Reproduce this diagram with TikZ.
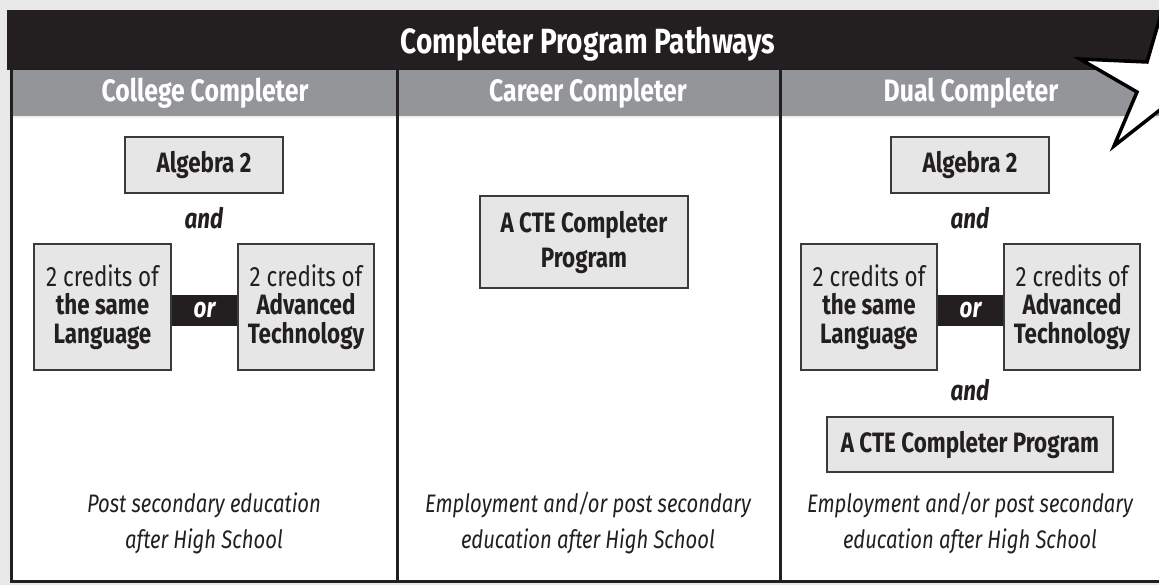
\documentclass[tikz,border=0pt]{standalone}
\usepackage{fontspec}
\setmainfont{Fira Sans}[FakeStretch=0.8]
\definecolor{ink}{HTML}{231F20}
\definecolor{band}{HTML}{939598}
\definecolor{boxfill}{HTML}{E6E6E6}
\definecolor{boxline}{HTML}{3A3A3A}
\definecolor{bg}{HTML}{E8E8E8}
\newcommand\litetxt[1]{{\mdseries #1}}
\tikzset{
  box/.style={draw=boxline, line width=1.8pt, fill=boxfill, inner sep=0pt, align=center,
    text=ink, font=\fontsize{28}{28.5}\selectfont\bfseries},
  andtext/.style={text=ink, font=\fontsize{28}{28}\selectfont\bfseries\itshape},
  outcome/.style={text=ink, align=center, font=\fontsize{25.3}{36}\selectfont\itshape},
  colhead/.style={text=white, font=\fontsize{31}{32}\selectfont\bfseries},
  orbar/.style={draw=ink, line width=31pt},
  ortext/.style={text=white, font=\fontsize{28}{28}\selectfont\bfseries\itshape},
  rule/.style={draw=ink, line width=3pt},
  starline/.style={draw=black, line width=3.5pt, line join=miter}
}
\begin{document}
\begin{tikzpicture}[x=1pt, y=-1pt]
  \useasboundingbox (0,0) rectangle (1159,585);
  % background and frame
  \fill[bg] (0,0) rectangle (1159,585);
  \fill[white] (11,70) rectangle (1159,582);
  \fill[ink] (7,10) rectangle (1159,70);
  \fill[band] (11,70) rectangle (1159,117);
  \fill[bg!70!white] (11,116) rectangle (1159,118.5);
  % title and column heads
  \node[colhead, font=\fontsize{35}{36}\selectfont\bfseries] (title) at (588,44) {Completer Program Pathways};
  \node[colhead] (h1) at (205,93) {College Completer};
  \node[colhead] (h2) at (588,93) {Career Completer};
  \node[colhead] (h3) at (971,93) {Dual Completer};
  % column rules
  \draw[rule] (11.5,70) -- (11.5,582.5);
  \draw[rule] (397,70) -- (397,582.5);
  \draw[rule] (780,70) -- (780,582.5);
  \draw[rule] (10,581.5) -- (1159,581.5);

  % College column
  \node[box, minimum width=158pt, minimum height=56pt] (alg1) at (204,165) {Algebra 2};
  \node[andtext] (and1) at (204,218) {and};
  \node[box, minimum width=137pt, minimum height=126pt] (lang1) at (102.5,307)
    {\litetxt{2 credits of}\\the same\\Language};
  \node[box, minimum width=136pt, minimum height=126pt] (tech1) at (306,307)
    {\litetxt{2 credits of}\\Advanced\\Technology};
  \draw[orbar] ([yshift=-3.5pt]lang1.east) -- ([yshift=-3.5pt]tech1.west)
    node[midway, ortext] (or1) {or};
  \node[outcome] (out1) at (204,523) {Post secondary education\\after High School};

  % Career column
  \node[box, minimum width=208pt, minimum height=92pt, font=\fontsize{28}{35}\selectfont\bfseries] (cte2) at (584,242)
    {A CTE Completer\\Program};
  \node[outcome] (out2) at (588,523) {Employment and/or post secondary\\education after High School};

  % Dual column
  \node[box, minimum width=158pt, minimum height=56pt] (alg3) at (970,165) {Algebra 2};
  \node[andtext] (and3) at (970,218) {and};
  \node[box, minimum width=136pt, minimum height=126pt] (lang3) at (869,307)
    {\litetxt{2 credits of}\\the same\\Language};
  \node[box, minimum width=136pt, minimum height=126pt] (tech3) at (1072,307)
    {\litetxt{2 credits of}\\Advanced\\Technology};
  \draw[orbar] ([yshift=-3.5pt]lang3.east) -- ([yshift=-3.5pt]tech3.west)
    node[midway, ortext] (or3) {or};
  \node[andtext] (and4) at (970,390) {and};
  \node[box, minimum width=286pt, minimum height=55pt] (cte3) at (970,444.5)
    {A CTE Completer Program};
  \node[outcome] (out3) at (970,523) {Employment and/or post secondary\\education after High School};

  % star
  \fill[white] (1161,14) -- (1147,62) -- (1080,59) -- (1137,92) -- (1114,146) -- (1170,105) -- (1170,14) -- cycle;
  \draw[starline] (1161,14) -- (1147,62) -- (1080,59) -- (1137,92) -- (1114,146) -- (1165,106);
\end{tikzpicture}
\end{document}
